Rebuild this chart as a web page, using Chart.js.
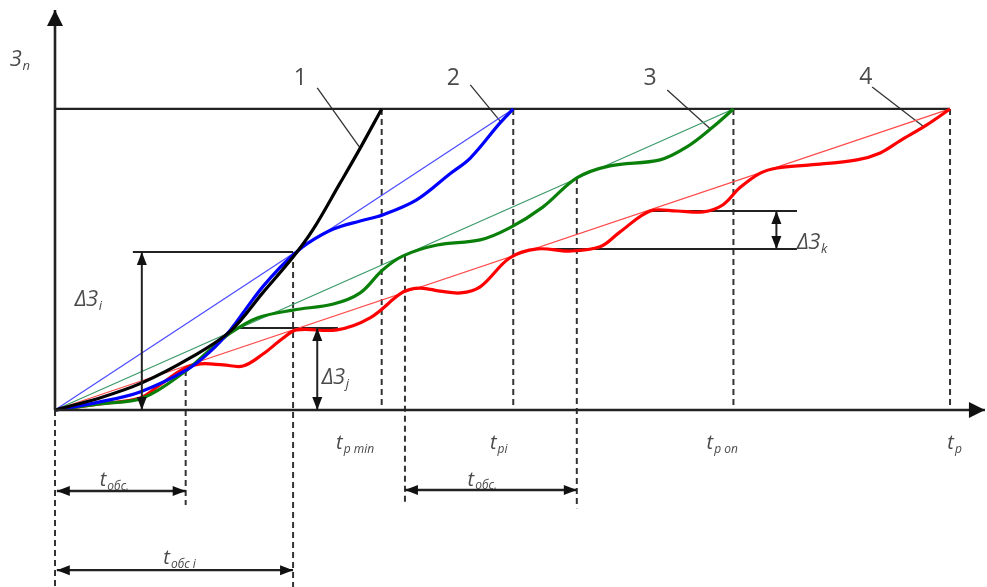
<!DOCTYPE html>
<html>
<head>
<meta charset="utf-8">
<script src="https://cdn.jsdelivr.net/npm/chart.js@4.4.1/dist/chart.umd.min.js"></script>
<style>
html,body{margin:0;padding:0;background:#fff;}
#wrap{width:987px;height:587px;}
</style>
</head>
<body>
<div id="wrap"><canvas id="chart" width="987" height="587"></canvas></div>
<script>
// x = time (t_p = 100), y = Зп (maximum level = 100)
const curve1 = [[0,0],[5.0,4.0],[9.7,9.0],[15.1,17.3],[19.6,26.2],[23.2,38.9],[26.6,50.8],[28.8,59.8],[31.8,75.1],[34.1,87.0],[36.5,100]];
const curve2 = [[0,0],[5.0,2.7],[9.5,6.0],[14.7,13.3],[17.3,19.3],[19.6,26.6],[21.8,35.5],[23.2,40.9],[25.1,47.2],[26.6,51.5],[28.3,55.5],[31.1,60.1],[34.1,62.8],[36.6,64.8],[40.4,69.8],[44.1,78.4],[46.4,83.7],[49.7,95.3],[51.2,100]];
const curve3 = [[0,0],[5.0,2.0],[9.8,4.0],[14.3,12.3],[17.3,19.9],[19.6,25.6],[22.6,30.6],[26.6,33.2],[31.1,35.2],[34.1,38.9],[36.6,46.5],[38.9,51.2],[42.7,54.8],[47.5,56.5],[50.8,60.5],[54.5,67.4],[58.3,77.1],[62.0,81.1],[67.6,83.1],[70.6,87.4],[73.5,94.0],[75.8,100]];
const curve4 = [[0,0],[5.0,2.0],[9.5,4.0],[11.7,8.3],[14.3,13.6],[16.2,15.3],[18.8,15.0],[21.0,14.6],[23.2,18.5],[25.5,23.9],[27.0,26.6],[31.5,26.6],[35.2,30.6],[38.9,39.2],[40.8,40.5],[43.0,39.5],[45.3,38.9],[47.5,40.9],[50.8,50.5],[53.9,53.5],[57.5,52.8],[60.9,54.2],[63.1,59.1],[66.5,66.1],[69.5,66.1],[72.4,65.8],[74.6,68.1],[76.5,73.8],[78.8,78.7],[80.7,80.4],[84.4,81.4],[89.6,83.1],[92.2,85.4],[94.4,89.4],[97.4,94.7],[100,100]];

// end times of the straight (average) lines 2..4 and the top level
const endTimes = [51.2, 75.8, 100];
const levelMax = 100;

// marked times on the t axis
const tpMin = 36.5, tpI = 51.2, tpOpt = 75.8, tpEnd = 100;
const tObs1 = [0, 14.6];
const tObs2 = [39.1, 58.3];
const tObsI = [0, 26.6];

// increments
const dZi = [8.7, 26.6, 52.5];        // x from, x to, level
const dZj = [20.4, 31.6, 27.2];
const dZkTop = [66.5, 82.9, 66.1];
const dZkLow = [53.6, 82.9, 53.5];
const arrowI = 9.7, arrowJ = 29.3, arrowK = 80.6;

// number callouts: label position and leader end
const calloutLabels = ['1','2','3','4'];
const calloutFrom = [[29.3,107.0],[46.4,108.0],[68.4,106.3],[91.3,107.3]];
const calloutTo = [[34.0,87.4],[49.8,95.7],[73.2,93.4],[97.1,94.0]];

const pts = a => a.map(p => ({x:p[0], y:p[1]}));
const seg = (x1,y1,x2,y2) => [{x:x1,y:y1},{x:x2,y:y2}];

const thick = (data, color) => ({data: pts(data), borderColor: color, borderWidth: 3.2, tension: 0.35, pointRadius: 0, fill: false});
const thin = (data, color, w) => ({data, borderColor: color, borderWidth: w || 1.3, tension: 0, pointRadius: 0, fill: false});
const dashed = data => ({data, borderColor: '#333', borderWidth: 2, borderDash: [6,4], tension: 0, pointRadius: 0, fill: false});

const datasets = [
  thick(curve1, '#000000'),
  thick(curve2, '#0000ff'),
  thick(curve3, '#0a800a'),
  thick(curve4, '#ff0000'),
  thin(seg(0,0,endTimes[0],levelMax), '#4d4dff'),
  thin(seg(0,0,endTimes[1],levelMax), '#3c9a6a'),
  thin(seg(0,0,endTimes[2],levelMax), '#ff4a4a'),
  thin(seg(0,levelMax,tpEnd,levelMax), '#222', 2.2),
  thin(seg(dZi[0],dZi[2],dZi[1],dZi[2]), '#222', 2),
  thin(seg(dZj[0],dZj[2],dZj[1],dZj[2]), '#222', 2),
  thin(seg(dZkTop[0],dZkTop[2],dZkTop[1],dZkTop[2]), '#222', 2),
  thin(seg(dZkLow[0],dZkLow[2],dZkLow[1],dZkLow[2]), '#222', 2),
  dashed(seg(tpMin,levelMax,tpMin,0)),
  dashed(seg(tpI,levelMax,tpI,0)),
  dashed(seg(tpOpt,levelMax,tpOpt,0)),
  dashed(seg(tpEnd,levelMax,tpEnd,0)),
  dashed(seg(tObs1[0],0,tObs1[0],-58.8)),
  dashed(seg(tObs1[1],13.3,tObs1[1],-31.6)),
  dashed(seg(tObsI[1],dZi[2],tObsI[1],-58.8)),
  dashed(seg(tObs2[0],51.2,tObs2[0],-31.6)),
  dashed(seg(tObs2[1],77.1,tObs2[1],-32.6))
];
calloutFrom.forEach((p,i) => datasets.push(thin(seg(p[0],p[1],calloutTo[i][0],calloutTo[i][1]), '#333', 1.3)));

const drawings = {
  id: 'drawings',
  afterDatasetsDraw(chart) {
    const {ctx, scales} = chart;
    const X = v => scales.x.getPixelForValue(v);
    const Y = v => scales.y.getPixelForValue(v);

    function head(x1,y1,x2,y2,len,wid){
      const a = Math.atan2(y2-y1, x2-x1);
      ctx.beginPath();
      ctx.moveTo(x2,y2);
      ctx.lineTo(x2 - len*Math.cos(a) + wid*Math.sin(a), y2 - len*Math.sin(a) - wid*Math.cos(a));
      ctx.lineTo(x2 - len*Math.cos(a) - wid*Math.sin(a), y2 - len*Math.sin(a) + wid*Math.cos(a));
      ctx.closePath();
      ctx.fill();
    }
    function arrow(x1,y1,x2,y2,both,w,len,wid){
      len = len || 13; wid = wid || 5;
      ctx.lineWidth = w || 2;
      ctx.beginPath(); ctx.moveTo(x1,y1); ctx.lineTo(x2,y2); ctx.stroke();
      head(x1,y1,x2,y2,len,wid);
      if (both) head(x2,y2,x1,y1,len,wid);
    }
    function label(x, y, main, sub, size){
      ctx.font = 'italic ' + size + 'px "Open Sans", sans-serif';
      ctx.textBaseline = 'middle';
      ctx.textAlign = 'left';
      ctx.fillText(main, x, y);
      const w = ctx.measureText(main).width;
      if (sub) {
        ctx.font = 'italic ' + Math.round(size*0.62) + 'px "Open Sans", sans-serif';
        ctx.fillText(sub, x + w + 1, y + size*0.3);
      }
    }

    ctx.save();
    ctx.strokeStyle = '#222';
    ctx.fillStyle = '#111';
    // axes
    arrow(X(0), Y(0), X(0), Y(132.9), false, 2.6, 16, 8);
    arrow(X(0), Y(0), X(103.9), Y(0), false, 2.6, 16, 8);
    // increments
    arrow(X(arrowI), Y(dZi[2]), X(arrowI), Y(0), true);
    arrow(X(arrowJ), Y(dZj[2]), X(arrowJ), Y(0), true);
    arrow(X(arrowK), Y(dZkTop[2]), X(arrowK), Y(dZkLow[2]), true);
    // service times
    arrow(X(tObs1[0]+0.2), Y(-26.9), X(tObs1[1]), Y(-26.9), true, 2.4);
    arrow(X(tObs2[0]), Y(-26.6), X(tObs2[1]), Y(-26.6), true, 2.4);
    arrow(X(tObsI[0]+0.2), Y(-53.2), X(tObsI[1]), Y(-53.2), true, 2.4);

    // texts
    ctx.fillStyle = '#4a4a4a';
    label(X(-5.0), Y(116.3), 'З', 'п', 21);
    ctx.font = '23px "Open Sans", sans-serif';
    ctx.textAlign = 'center';
    ctx.textBaseline = 'middle';
    const numPos = [[27.4,110.3],[44.5,110.3],[66.5,110.3],[90.6,110.6]];
    calloutLabels.forEach((t,i) => ctx.fillText(t, X(numPos[i][0]), Y(numPos[i][1])));

    label(X(2.2), Y(36.5), 'ΔЗ', 'i', 21);
    label(X(29.8), Y(10.6), 'ΔЗ', 'j', 21);
    label(X(82.9), Y(55.5), 'ΔЗ', 'k', 21);

    label(X(31.4), Y(-11.0), 't', 'р min', 20);
    label(X(48.6), Y(-11.0), 't', 'рi', 20);
    label(X(72.8), Y(-11.0), 't', 'р оп', 20);
    label(X(99.7), Y(-11.0), 't', 'р', 20);
    label(X(5.0), Y(-23.5), 't', 'обс.', 20);
    label(X(46.1), Y(-23.2), 't', 'обс.', 20);
    label(X(12.1), Y(-49.4), 't', 'обс i', 20);
    ctx.restore();
  }
};

new Chart(document.getElementById('chart'), {
  type: 'line',
  data: { datasets },
  options: {
    responsive: false,
    animation: false,
    devicePixelRatio: 1,
    layout: { padding: 0 },
    plugins: { legend: { display: false }, tooltip: { enabled: false } },
    elements: { point: { radius: 0 } },
    scales: {
      x: { type: 'linear', min: -6.145, max: 104.13, display: false },
      y: { type: 'linear', min: -58.8, max: 136.2, display: false }
    }
  },
  plugins: [drawings]
});
</script>
</body>
</html>
